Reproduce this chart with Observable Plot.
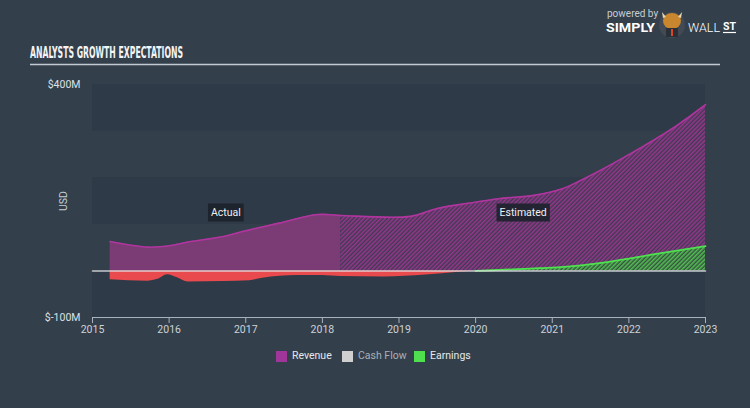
<!DOCTYPE html>
<html><head><meta charset="utf-8">
<script src="https://cdn.jsdelivr.net/npm/d3@7"></script>
<script src="https://cdn.jsdelivr.net/npm/@observablehq/plot@0.6"></script>
<style>
body{margin:0;background:#333f4b;}
#wrap{position:relative;width:750px;height:408px;background:#333f4b;overflow:hidden;font-family:Roboto,"Open Sans",sans-serif;}
#chart{position:absolute;left:0;top:0;}
.ov{position:absolute;left:0;top:0;}
.leg{position:absolute;top:349px;font-size:10.5px;color:#e6e8ea;line-height:14px;}
.sw{position:absolute;top:351px;width:11px;height:11px;}
</style></head>
<body><div id="wrap"><div id="chart"></div>
<svg class="ov" width="750" height="80">
  <text x="30" y="58" textLength="153" lengthAdjust="spacingAndGlyphs" font-family="'Liberation Sans Narrow','DejaVu Sans Condensed',sans-serif" font-weight="bold" font-size="16" fill="#f3f4f5">ANALYSTS GROWTH EXPECTATIONS</text>
  <line x1="30" x2="720" y1="64.5" y2="64.5" stroke="#c3c9d0" stroke-width="1.5"/>
  <text x="607" y="17" font-family="Roboto,sans-serif" font-size="10" fill="#c9cdd2">powered by</text>
  <text x="606" y="31.5" textLength="49" lengthAdjust="spacingAndGlyphs" font-family="Roboto,sans-serif" font-weight="bold" font-size="13.5" fill="#ffffff">SIMPLY</text>
  <circle cx="672" cy="25" r="13" fill="#414a55"/>
  <ellipse cx="672" cy="21" rx="9" ry="8" fill="#c8872e"/>
  <path d="M662 12 L666 17 L663 18 Z M682 12 L678 17 L681 18 Z" fill="#e8d6b0"/>
  <rect x="666" y="28" width="12" height="9" fill="#2b2f36"/>
  <rect x="671" y="29" width="2" height="7" fill="#d9472b"/>
  <text x="688" y="31.5" textLength="32" lengthAdjust="spacingAndGlyphs" font-family="Roboto,sans-serif" font-weight="300" font-size="13" fill="#ffffff">WALL</text>
  <text x="723" y="29.5" textLength="13" lengthAdjust="spacingAndGlyphs" font-family="Roboto,sans-serif" font-weight="bold" font-size="10" fill="#ffffff">ST</text>
  <line x1="723" x2="736" y1="32.5" y2="32.5" stroke="#ffffff" stroke-width="1.2"/>
</svg>
<div class="sw" style="left:276px;background:#a0359a"></div><div class="leg" style="left:292px">Revenue</div>
<div class="sw" style="left:342px;background:#cfcfcf"></div><div class="leg" style="left:358px;color:#a9b0b8">Cash Flow</div>
<div class="sw" style="left:414px;background:#4fe04f"></div><div class="leg" style="left:430px">Earnings</div>
</div>
<script>
// ---- data ----
const years = [2015, 2016, 2017, 2018, 2019, 2020, 2021, 2022, 2023];
const yTicks = [400, -100];
const revenueX = [2015.23, 2015.72, 2016.0, 2016.28, 2016.71, 2016.97, 2017.42, 2017.94, 2018.24, 2019.15, 2019.5, 2019.9, 2020.3, 2020.76, 2021.11, 2021.37, 2021.93, 2022.58, 2023.0];
const revenueY = [63, 51, 54, 63, 74, 85, 102, 121, 119, 117, 134, 145, 155, 162, 175, 194, 243, 307, 357];
const earningsX = [2015.23, 2015.72, 2015.85, 2015.98, 2016.1, 2016.25, 2016.71, 2017.05, 2017.22, 2017.67, 2018.0, 2018.24, 2018.8, 2019.35, 2019.78, 2020.0, 2020.3, 2020.85, 2021.11, 2021.72, 2022.38, 2023.0];
const earningsY = [-19, -22, -18, -8, -14, -24, -23, -21, -16, -10, -10, -12, -13, -9, -3, 0, 2, 6, 8, 19, 37, 53];
const cashFlowX = [2015, 2023];
const cashFlowY = [0, 0];
const splitYear = 2018.24;
const bands = [[300, 400], [100, 200], [-100, 0]];
const labels = [{x: 2016.74, y: 125, t: "Actual"}, {x: 2020.62, y: 125, t: "Estimated"}];

const revenue = revenueX.map((x, i) => ({x, y: revenueY[i]}));
const earnings = earningsX.map((x, i) => ({x, y: earningsY[i]}));
const cash = cashFlowX.map((x, i) => ({x, y: cashFlowY[i]}));
const revAct = revenue.filter(d => d.x <= splitYear);
const revEst = revenue.filter(d => d.x >= splitYear);
const earnNeg = earnings.filter(d => d.x <= 2020.0);
const earnPos = earnings.filter(d => d.x >= 2020.0);
const band = bands.map(([a, b]) => ({y1: a, y2: b}));

const plot = Plot.plot({
  width: 750, height: 408,
  marginLeft: 92, marginRight: 45, marginTop: 84, marginBottom: 91,
  x: {domain: [2015, 2023]},
  y: {domain: [-100, 400]},
  style: {fontFamily: "Roboto, 'Open Sans', sans-serif", fontSize: "10.5px", color: "#cdd2d8", background: "transparent", overflow: "visible"},
  marks: [
    Plot.rect(band, {x1: 2015, x2: 2023, y1: "y1", y2: "y2", fill: "#2e3a47"}),
    Plot.areaY(revAct, {x: "x", y: "y", fill: "#7b3b75", curve: "catmull-rom"}),
    Plot.areaY(revEst, {x: "x", y: "y", fill: "url(#hatchRev)", curve: "catmull-rom"}),
    Plot.line(revenue, {x: "x", y: "y", stroke: "#b0359f", strokeWidth: 1.6, curve: "catmull-rom"}),
    Plot.areaY(earnNeg, {x: "x", y: d => Math.min(d.y, 0), fill: "#e84a4e", curve: "monotone-x"}),
    Plot.areaY(earnPos, {x: "x", y: d => Math.max(d.y, 0), fill: "url(#hatchEarn)", curve: "monotone-x"}),
    Plot.line(earnPos, {x: "x", y: "y", stroke: "#4fe04f", strokeWidth: 1.8, curve: "monotone-x"}),
    Plot.line(cash, {x: "x", y: "y", stroke: "#dfe2e5", strokeWidth: 1.5, strokeOpacity: 0.85}),
    Plot.ruleY([-100], {stroke: "#aab3bd", strokeWidth: 1}),
    Plot.axisX({ticks: years, tickFormat: d => String(d), tickSize: 6, tickPadding: 2, label: null, stroke: "#aab3bd", fill: "#cdd2d8"}),
    Plot.axisY({ticks: yTicks, tickSize: 0, tickPadding: 12, tickFormat: d => `$${d}M`, label: null, fill: "#dde1e5"}),
    Plot.text(["USD"], {x: 2015, y: 150, dx: -29, rotate: -90, text: d => d, fill: "#c9ced4", fontSize: 10.5}),
    Plot.text(labels, {x: "x", y: "y", text: "t", fill: "#f0f0f0", fontSize: 10.5})
  ]
});
document.getElementById("chart").appendChild(plot);

// patterns
const svg = d3.select(plot);
const defs = svg.insert("defs", ":first-child");
const p1 = defs.append("pattern").attr("id", "hatchRev").attr("patternUnits", "userSpaceOnUse")
  .attr("width", 3).attr("height", 3).attr("patternTransform", "rotate(45)");
p1.append("rect").attr("width", 3).attr("height", 3).attr("fill", "#3e3a50");
p1.append("line").attr("x1", 0.8).attr("x2", 0.8).attr("y1", 0).attr("y2", 3).attr("stroke", "#9a3690").attr("stroke-width", 1.5);
const p2 = defs.append("pattern").attr("id", "hatchEarn").attr("patternUnits", "userSpaceOnUse")
  .attr("width", 3).attr("height", 3).attr("patternTransform", "rotate(45)");
p2.append("rect").attr("width", 3).attr("height", 3).attr("fill", "#35503f");
p2.append("line").attr("x1", 0.8).attr("x2", 0.8).attr("y1", 0).attr("y2", 3).attr("stroke", "#55c455").attr("stroke-width", 1.5);

// label boxes
const labelTexts = new Set(labels.map(d => d.t));
svg.selectAll("text").filter(function() { return labelTexts.has(this.textContent); }).each(function() {
  const b = this.getBBox();
  const r = document.createElementNS("http://www.w3.org/2000/svg", "rect");
  r.setAttribute("x", b.x - 3); r.setAttribute("y", b.y - 2.5);
  r.setAttribute("width", b.width + 6); r.setAttribute("height", b.height + 5);
  r.setAttribute("fill", "#1d232c"); r.setAttribute("fill-opacity", "0.92");
  const tf = this.getAttribute("transform");
  if (tf) r.setAttribute("transform", tf);
  const ctm = this.parentNode.getAttribute("transform");
  this.parentNode.insertBefore(r, this);
});
</script></body></html>
